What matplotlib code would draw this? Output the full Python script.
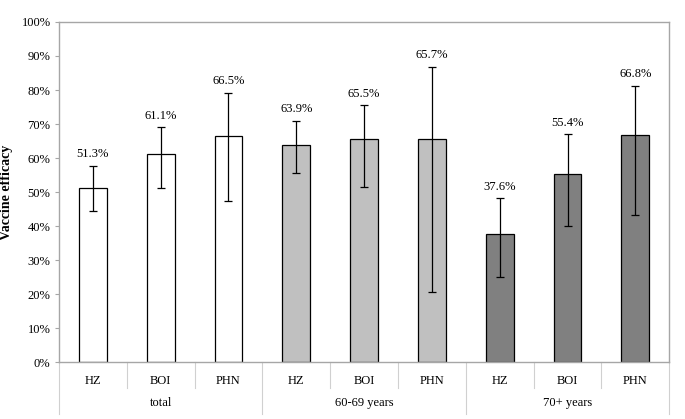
import matplotlib.pyplot as plt
import numpy as np

plt.rcParams['font.family'] = ['Liberation Serif', 'DejaVu Serif']

# data
outcomes = ['HZ', 'BOI', 'PHN']
groups = ['total', '60-69 years', '70+ years']
efficacy = [51.3, 61.1, 66.5, 63.9, 65.5, 65.7, 37.6, 55.4, 66.8]
ci_low = [44.3, 51.1, 47.5, 55.5, 51.6, 20.5, 25.1, 39.9, 43.3]
ci_high = [57.7, 69.1, 79.2, 71.0, 75.5, 86.8, 48.1, 67.0, 81.3]
group_colors = ['#ffffff', '#c0c0c0', '#808080']

frame_col = '#a6a6a6'

fig = plt.figure(figsize=(6.85, 4.19), dpi=100)
ax = fig.add_axes([0.086, 0.136, 0.891, 0.8115])

x = np.arange(len(efficacy))
eff = np.array(efficacy)
yerr = np.array([eff - np.array(ci_low), np.array(ci_high) - eff])
colors = [group_colors[i // 3] for i in range(len(efficacy))]

ax.bar(x, eff, width=0.41, color=colors, edgecolor='black', linewidth=0.9, zorder=2)
ax.errorbar(x, eff, yerr=yerr, fmt='none', ecolor='black', elinewidth=0.9,
            capsize=3, capthick=0.9, zorder=3)

for xi, v, hi in zip(x, efficacy, ci_high):
    ax.annotate(f'{v:.1f}%', (xi, hi), xytext=(0, 4), textcoords='offset points',
                ha='center', va='bottom', fontsize=9)

ax.set_xlim(-0.5, len(efficacy) - 0.5)
ax.set_ylim(0, 100)
ax.set_yticks(np.arange(0, 101, 10))
ax.set_yticklabels([f'{t}%' for t in range(0, 101, 10)])
ax.set_xticks(x)
ax.set_xticklabels(outcomes * len(groups))
ax.tick_params(axis='x', length=0, pad=9.5, labelsize=9)
ax.tick_params(axis='y', length=3, color=frame_col, labelsize=9, pad=3)
ax.tick_params(axis='y', direction='out')

for s in ax.spines.values():
    s.set_color(frame_col)
    s.set_linewidth(1.0)

ax.set_ylabel('Vaccine efficacy', fontsize=10, fontweight='bold', labelpad=6)

# category separators under the axis
trans = ax.get_xaxis_transform()
for b in np.arange(-0.5, len(efficacy), 1.0):
    major = (b + 0.5) % 3 == 0
    ax.plot([b, b], [0, -0.153 if major else -0.0765], transform=trans,
            color='#d0d0d0', linewidth=0.8, clip_on=False)

for gi, g in enumerate(groups):
    ax.text(gi * 3 + 1, -0.1206, g, transform=trans, ha='center', va='center',
            fontsize=9)

fig.savefig('out.png', dpi=100)
